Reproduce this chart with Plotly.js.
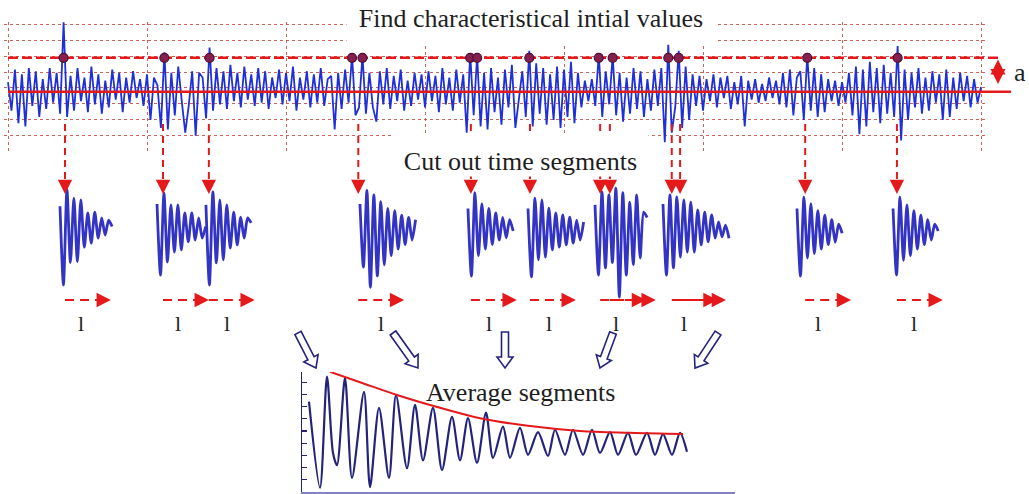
<!DOCTYPE html>
<html>
<head>
<meta charset="utf-8">
<script src="https://cdn.plot.ly/plotly-3.0.1.min.js"></script>
<style>
  html, body { margin: 0; padding: 0; background: #ffffff; }
  #chart { width: 1029px; height: 494px; }
</style>
</head>
<body>
<div id="chart"></div>
<script>
// ---------------- data ----------------
// Raw record, 40 samples per time division, 7 divisions
const samplesPerDiv = 40;
const signal = [
  0.6,-1.2,1.4,-2.0,1.1,-2.2,1.5,-0.9,1.3,-1.6,0.8,-1.1,1.5,-0.7,1.2,-1.4,4.4,-1.6,1.0,-1.2,
  1.5,-0.6,0.9,-1.3,1.6,-0.8,1.1,-1.4,0.7,-1.0,1.4,-0.5,1.2,-1.3,0.9,-0.7,1.3,-0.4,0.8,-0.9,
  1.1,-1.8,0.9,0.4,-2.3,2.5,-2.4,1.2,-1.5,1.6,-0.6,-2.6,-0.9,1.3,-2.8,1.2,0.9,-1.7,2.8,-1.2,
  1.5,-0.8,1.3,-1.1,1.7,-0.6,1.2,-1.0,1.6,-0.5,1.1,-0.9,1.5,-0.7,1.3,-1.1,0.9,-0.4,1.4,-0.8,
  1.2,-0.6,1.6,-1.2,0.9,-0.5,1.3,-1.0,1.1,-0.7,1.5,-0.9,0.8,1.0,-2.4,1.2,-1.1,1.4,-0.7,2.3,
  -1.5,-1.0,2.3,-1.4,1.2,-1.0,-1.9,1.3,-0.8,1.5,-1.1,1.0,-0.6,1.4,-1.2,0.7,-0.9,1.2,-0.5,1.1,
  -1.0,1.3,-0.6,1.0,-1.3,1.5,-0.8,0.9,-1.2,1.4,-0.7,1.1,-2.6,2.4,-1.5,2.3,-2.2,1.2,-2.4,1.5,
  -1.3,0.9,-2.1,1.4,-1.0,1.7,-2.3,-0.5,1.3,-1.6,2.6,-2.2,1.8,-1.4,1.5,-2.1,1.1,-1.8,1.6,-2.3,
  1.4,-1.6,1.9,-2.0,1.2,-1.0,0.7,-0.6,0.8,-0.9,2.4,-1.6,1.3,-0.8,2.3,-1.5,1.2,-1.9,0.9,-1.4,
  1.5,-1.1,1.3,-1.6,0.8,-1.2,1.4,-0.9,1.5,-3.2,3.0,-2.6,-1.0,2.6,-2.3,1.6,-1.8,1.1,-0.9,1.0,
  -1.2,0.8,-0.6,1.1,-1.0,0.9,-0.4,1.0,-1.1,0.6,-0.8,1.0,-2.2,0.7,-0.5,0.8,-0.7,0.5,-0.6,0.9,
  -0.4,0.7,-0.8,1.2,-1.0,1.4,-1.5,0.9,1.3,-1.8,2.3,-1.2,1.5,-1.6,1.1,-1.3,0.8,-0.6,0.7,-0.9,
  0.6,-0.7,1.2,-1.5,1.6,-2.7,1.4,-2.2,1.9,-1.3,1.5,-2.0,1.7,-1.4,1.2,-1.6,2.9,-3.1,1.4,-1.8,
  1.2,-1.0,1.5,-1.4,0.9,-1.2,1.3,-0.7,1.1,-1.8,1.4,-1.6,0.9,-1.1,1.2,-0.6,1.0,-1.0,0.8,-0.7,
  0.3
];
const meanLevel = 0;
const threshold = 2.15;
// samples where the record crosses the threshold
const crossingIdx = [16, 45, 58, 99, 102, 133, 135, 150, 170, 174, 190, 193, 230, 256];
// cut instants (time divisions) and the fixed window length l
const cutTimes = [0.41, 1.115, 1.445, 2.52, 3.33, 3.755, 4.26, 4.33, 4.775, 4.835, 5.735, 6.395];
const windowLen = 0.33;

// cut-out segments: start time and samples (step segStep)
const segStep = 0.025;
const segStart = [0.374, 1.072, 1.424, 2.532, 3.309, 3.741, 4.223, 4.712, 5.676, 6.367];
const seg1  = [0.75,-1.0,1.12,-0.5,0.93,-0.48,0.89,-0.16,0.6,-0.07,0.62,0.04,0.49,0.11,0.44,0.3];
const seg2  = [0.8,-0.78,1.04,-0.49,0.78,-0.27,0.78,-0.22,0.6,-0.04,0.6,0.0,0.49,0.04,0.3];
const seg3  = [0.78,-1.0,1.07,-0.51,0.89,-0.44,0.78,-0.18,0.62,-0.11,0.51,0.04,0.49,0.38];
const seg4  = [0.8,-0.6,1.1,-1.05,1.0,-0.8,0.85,-0.55,0.7,-0.35,0.65,-0.2,0.55,-0.1,0.5,0.0,0.45];
const seg5  = [0.7,-0.8,1.05,-0.35,0.8,-0.2,0.7,-0.1,0.6,0.0,0.5,0.05,0.45,0.2];
const seg6  = [0.7,-0.82,0.93,-0.44,0.89,-0.38,0.71,-0.22,0.6,-0.16,0.56,-0.11,0.51,-0.07,0.44,0.0,0.4];
const seg7  = [0.78,-0.78,1.07,-0.62,1.0,-0.5,1.15,-1.27,1.05,-0.78,0.84,-0.55,1.0,-0.4,0.62,0.5];
const seg8  = [0.8,-0.78,1.0,-0.62,0.96,-0.38,0.89,-0.27,0.84,-0.27,0.67,-0.11,0.62,-0.04,0.56,0.04,0.4,0.07,0.33,0.04];
const seg9  = [0.7,-0.8,0.95,-0.4,0.8,-0.3,0.65,-0.2,0.55,-0.1,0.45,-0.05,0.35,0.15];
const seg10 = [0.7,-0.78,0.95,-0.45,0.78,-0.35,0.65,-0.2,0.55,-0.1,0.45,0.0,0.35,0.2];
const segments = [seg1, seg2, seg3, seg4, seg5, seg6, seg7, seg8, seg9, seg10];

// averaged segment (ms, amplitude) and its decay envelope
const avgTime  = [7,18,25,31,35,43,50,62,68,77,87,94,105,113,121,131,140,150,158,166,175,184,191,
                  201,208,218,226,236,246,253,263,271,281,290,298,308,316,326,334,345,353,361,370,378,385];
const avgValue = [0.48,-0.93,0.89,-0.36,-0.56,0.87,-0.77,0.64,-0.92,0.38,-0.77,0.59,-0.61,0.43,-0.48,0.38,-0.64,
                  0.23,-0.48,0.21,-0.52,0.30,-0.44,0.07,-0.44,0.05,-0.39,-0.02,-0.41,0.02,-0.39,0.02,-0.39,
                  0.02,-0.36,-0.02,-0.39,-0.03,-0.39,-0.03,-0.39,-0.05,-0.39,-0.03,-0.34];
const envTime  = [28, 58, 95, 138, 178, 228, 278, 328, 381];
const envValue = [0.97, 0.80, 0.59, 0.38, 0.21, 0.08, 0.0, -0.03, -0.05];

const titleTop = 'Find characteristical intial values';
const titleCut = 'Cut out time segments';
const titleAvg = 'Average segments';
const windowLabel = 'l';
const amplitudeLabel = 'a';

// ---------------- helpers ----------------
const W = 1029, H = 494;
const px = x => x / W;          // pixel column -> paper x
const py = y => 1 - y / H;      // pixel row -> paper y
const RED = '#e3191c';
const BLUE = '#1f30d8';
const SEG_BLUE = '#3434c4';
const NAVY = '#23237c';
const SERIF = 'Liberation Serif, Times New Roman, serif';
const TXT = '#1e1e1e';

const sigTime = signal.map((_, i) => i / samplesPerDiv);

// ---------------- traces ----------------
const traces = [];
traces.push({
  x: sigTime, y: signal, xaxis: 'x', yaxis: 'y', mode: 'lines',
  line: { color: BLUE, width: 1.8 }, hoverinfo: 'skip'
});
segments.forEach((s, k) => {
  traces.push({
    x: s.map((_, i) => segStart[k] + i * segStep), y: s,
    xaxis: 'x2', yaxis: 'y2', mode: 'lines',
    line: { color: SEG_BLUE, width: 2.8, shape: 'spline', smoothing: 0.7 },
    hoverinfo: 'skip'
  });
});
traces.push({
  x: avgTime, y: avgValue, xaxis: 'x3', yaxis: 'y3', mode: 'lines',
  line: { color: NAVY, width: 2.2, shape: 'spline', smoothing: 0.8 }, hoverinfo: 'skip'
});
traces.push({
  x: envTime, y: envValue, xaxis: 'x3', yaxis: 'y3', mode: 'lines',
  line: { color: RED, width: 2, shape: 'spline' }, hoverinfo: 'skip'
});

// ---------------- shapes ----------------
const shapes = [];
// dashed drop lines from each cut instant
cutTimes.forEach(t => {
  shapes.push({ type: 'line', xref: 'x', yref: 'paper', x0: t, x1: t, y0: py(124), y1: py(186),
    line: { color: RED, width: 2, dash: '7px,5px' } });
});
// window length arrows
cutTimes.forEach(t => {
  shapes.push({ type: 'line', xref: 'x', yref: 'paper', x0: t, x1: t + windowLen - 0.04,
    y0: py(300), y1: py(300), line: { color: RED, width: 2, dash: '9px,6px' } });
});
// mean level and threshold
shapes.push({ type: 'line', xref: 'paper', yref: 'y', layer: 'above',
  x0: px(8), x1: px(1011), y0: meanLevel, y1: meanLevel, line: { color: RED, width: 2.5 } });
shapes.push({ type: 'line', xref: 'paper', yref: 'y', layer: 'above',
  x0: px(8), x1: px(1002), y0: threshold, y1: threshold, line: { color: RED, width: 2.5, dash: '10px,4px' } });
// crossing markers
crossingIdx.forEach(i => {
  shapes.push({ type: 'circle', xref: 'x', yref: 'y', layer: 'above',
    xsizemode: 'pixel', ysizemode: 'pixel', xanchor: sigTime[i], yanchor: threshold,
    x0: -4.5, x1: 4.5, y0: -4.5, y1: 4.5, fillcolor: '#84204f', line: { color: '#4e0f38', width: 1.2 } });
});
// hollow block arrows gathering the segments
function blockArrow(x0, y0, x1, y1) {
  const L = Math.hypot(x1 - x0, y1 - y0);
  const ux = (x1 - x0) / L, uy = (y1 - y0) / L;
  const nx = -uy, ny = ux;
  const w = 3.5, hw = 8, hl = 11;
  const neckX = x1 - ux * hl, neckY = y1 - uy * hl;
  const pts = [
    [x0 + nx * w, y0 + ny * w], [neckX + nx * w, neckY + ny * w], [neckX + nx * hw, neckY + ny * hw],
    [x1, y1], [neckX - nx * hw, neckY - ny * hw], [neckX - nx * w, neckY - ny * w], [x0 - nx * w, y0 - ny * w]
  ];
  return 'M' + pts.map(p => px(p[0]).toFixed(5) + ',' + py(p[1]).toFixed(5)).join(' L') + ' Z';
}
[[298, 333, 316, 368], [393, 333, 418, 368], [505, 332, 505, 368], [613, 333, 600, 368], [718, 333, 695, 368]]
  .forEach(a => {
    shapes.push({ type: 'path', xref: 'paper', yref: 'paper', layer: 'above',
      path: blockArrow(a[0], a[1], a[2], a[3]), fillcolor: '#ffffff', line: { color: NAVY, width: 1.6 } });
  });

// ---------------- annotations ----------------
const annotations = [];
// arrow heads on the drop lines and window arrows
cutTimes.forEach(t => {
  annotations.push({ text: '', xref: 'x', yref: 'paper', x: t, y: py(194), ax: 0, ay: -9,
    showarrow: true, arrowhead: 2, arrowsize: 1.3, arrowwidth: 2.2, arrowcolor: RED });
  annotations.push({ text: '', xref: 'x', yref: 'paper', x: t + windowLen, y: py(300), ax: -9, ay: 0,
    showarrow: true, arrowhead: 2, arrowsize: 1.3, arrowwidth: 2.2, arrowcolor: RED });
});
// headings on white panels that interrupt the grid
annotations.push({ text: titleTop, xref: 'paper', yref: 'paper', x: px(531), y: py(24),
  xanchor: 'center', yanchor: 'middle', width: 368, height: 40, valign: 'top', bgcolor: '#ffffff',
  borderpad: 0, showarrow: false, font: { family: SERIF, size: 26, color: TXT } });
annotations.push({ text: titleCut, xref: 'paper', yref: 'paper', x: px(520.5), y: py(155),
  xanchor: 'center', yanchor: 'middle', width: 255, height: 42, valign: 'bottom', bgcolor: '#ffffff',
  borderpad: 0, showarrow: false, font: { family: SERIF, size: 26, color: TXT } });
annotations.push({ text: titleAvg, xref: 'paper', yref: 'paper', x: px(520), y: py(392),
  xanchor: 'center', yanchor: 'middle', showarrow: false, font: { family: SERIF, size: 26, color: TXT } });
annotations.push({ text: amplitudeLabel, xref: 'paper', yref: 'paper', x: px(1020), y: py(72),
  xanchor: 'center', yanchor: 'middle', showarrow: false, font: { family: SERIF, size: 26, color: TXT } });
// window labels
segStart.forEach(t => {
  annotations.push({ text: windowLabel, xref: 'x', yref: 'paper', x: t + 0.15, y: py(323),
    showarrow: false, font: { family: SERIF, size: 22, color: TXT } });
});
// amplitude span a between mean and threshold
annotations.push({ text: '', xref: 'paper', yref: 'y', x: px(998), y: threshold - 0.1,
  ax: 0, ay: 26, showarrow: true, arrowside: 'end+start', arrowhead: 2, arrowsize: 1.2,
  arrowwidth: 2.5, arrowcolor: RED });

// ---------------- layout ----------------
const gridStyle = { showgrid: true, gridcolor: 'rgba(196,70,60,0.85)', griddash: 'dot', gridwidth: 1,
  zeroline: false, showticklabels: false, ticks: '', showline: false, fixedrange: true };
const hidden = { visible: false, fixedrange: true };

const layout = {
  width: W, height: H,
  margin: { l: 0, r: 0, t: 0, b: 0, pad: 0 },
  paper_bgcolor: '#ffffff', plot_bgcolor: 'rgba(0,0,0,0)',
  showlegend: false,
  xaxis: Object.assign({}, gridStyle, { domain: [px(3.83), px(985.2)], range: [-0.03, 7.03], tick0: 0, dtick: 1, anchor: 'y' }),
  yaxis: Object.assign({}, gridStyle, { domain: [py(151.55), py(21.6)], range: [-3.8, 4.45], tick0: 0.25, dtick: 1, anchor: 'x' }),
  xaxis2: Object.assign({}, hidden, { domain: [px(3.83), px(985.2)], range: [-0.03, 7.03], anchor: 'y2' }),
  yaxis2: Object.assign({}, hidden, { domain: [py(300), py(185)], range: [-1.3333, 1.2222], anchor: 'x2' }),
  xaxis3: { domain: [px(302), px(735)], range: [0, 433], anchor: 'y3', showline: true, linecolor: '#8282c4',
    linewidth: 2, ticks: '', showticklabels: false, showgrid: false, zeroline: false, fixedrange: true },
  yaxis3: { domain: [py(492), py(372)], range: [-1.0, 0.967], anchor: 'x3', showline: true, linecolor: NAVY,
    linewidth: 1.5, ticks: 'inside', ticklen: 5, tickwidth: 1.2, tickcolor: NAVY, tick0: -1, dtick: 0.2,
    showticklabels: false, showgrid: false, zeroline: false, fixedrange: true },
  shapes, annotations
};

Plotly.newPlot('chart', traces, layout, { staticPlot: true, displayModeBar: false });
</script>
</body>
</html>
